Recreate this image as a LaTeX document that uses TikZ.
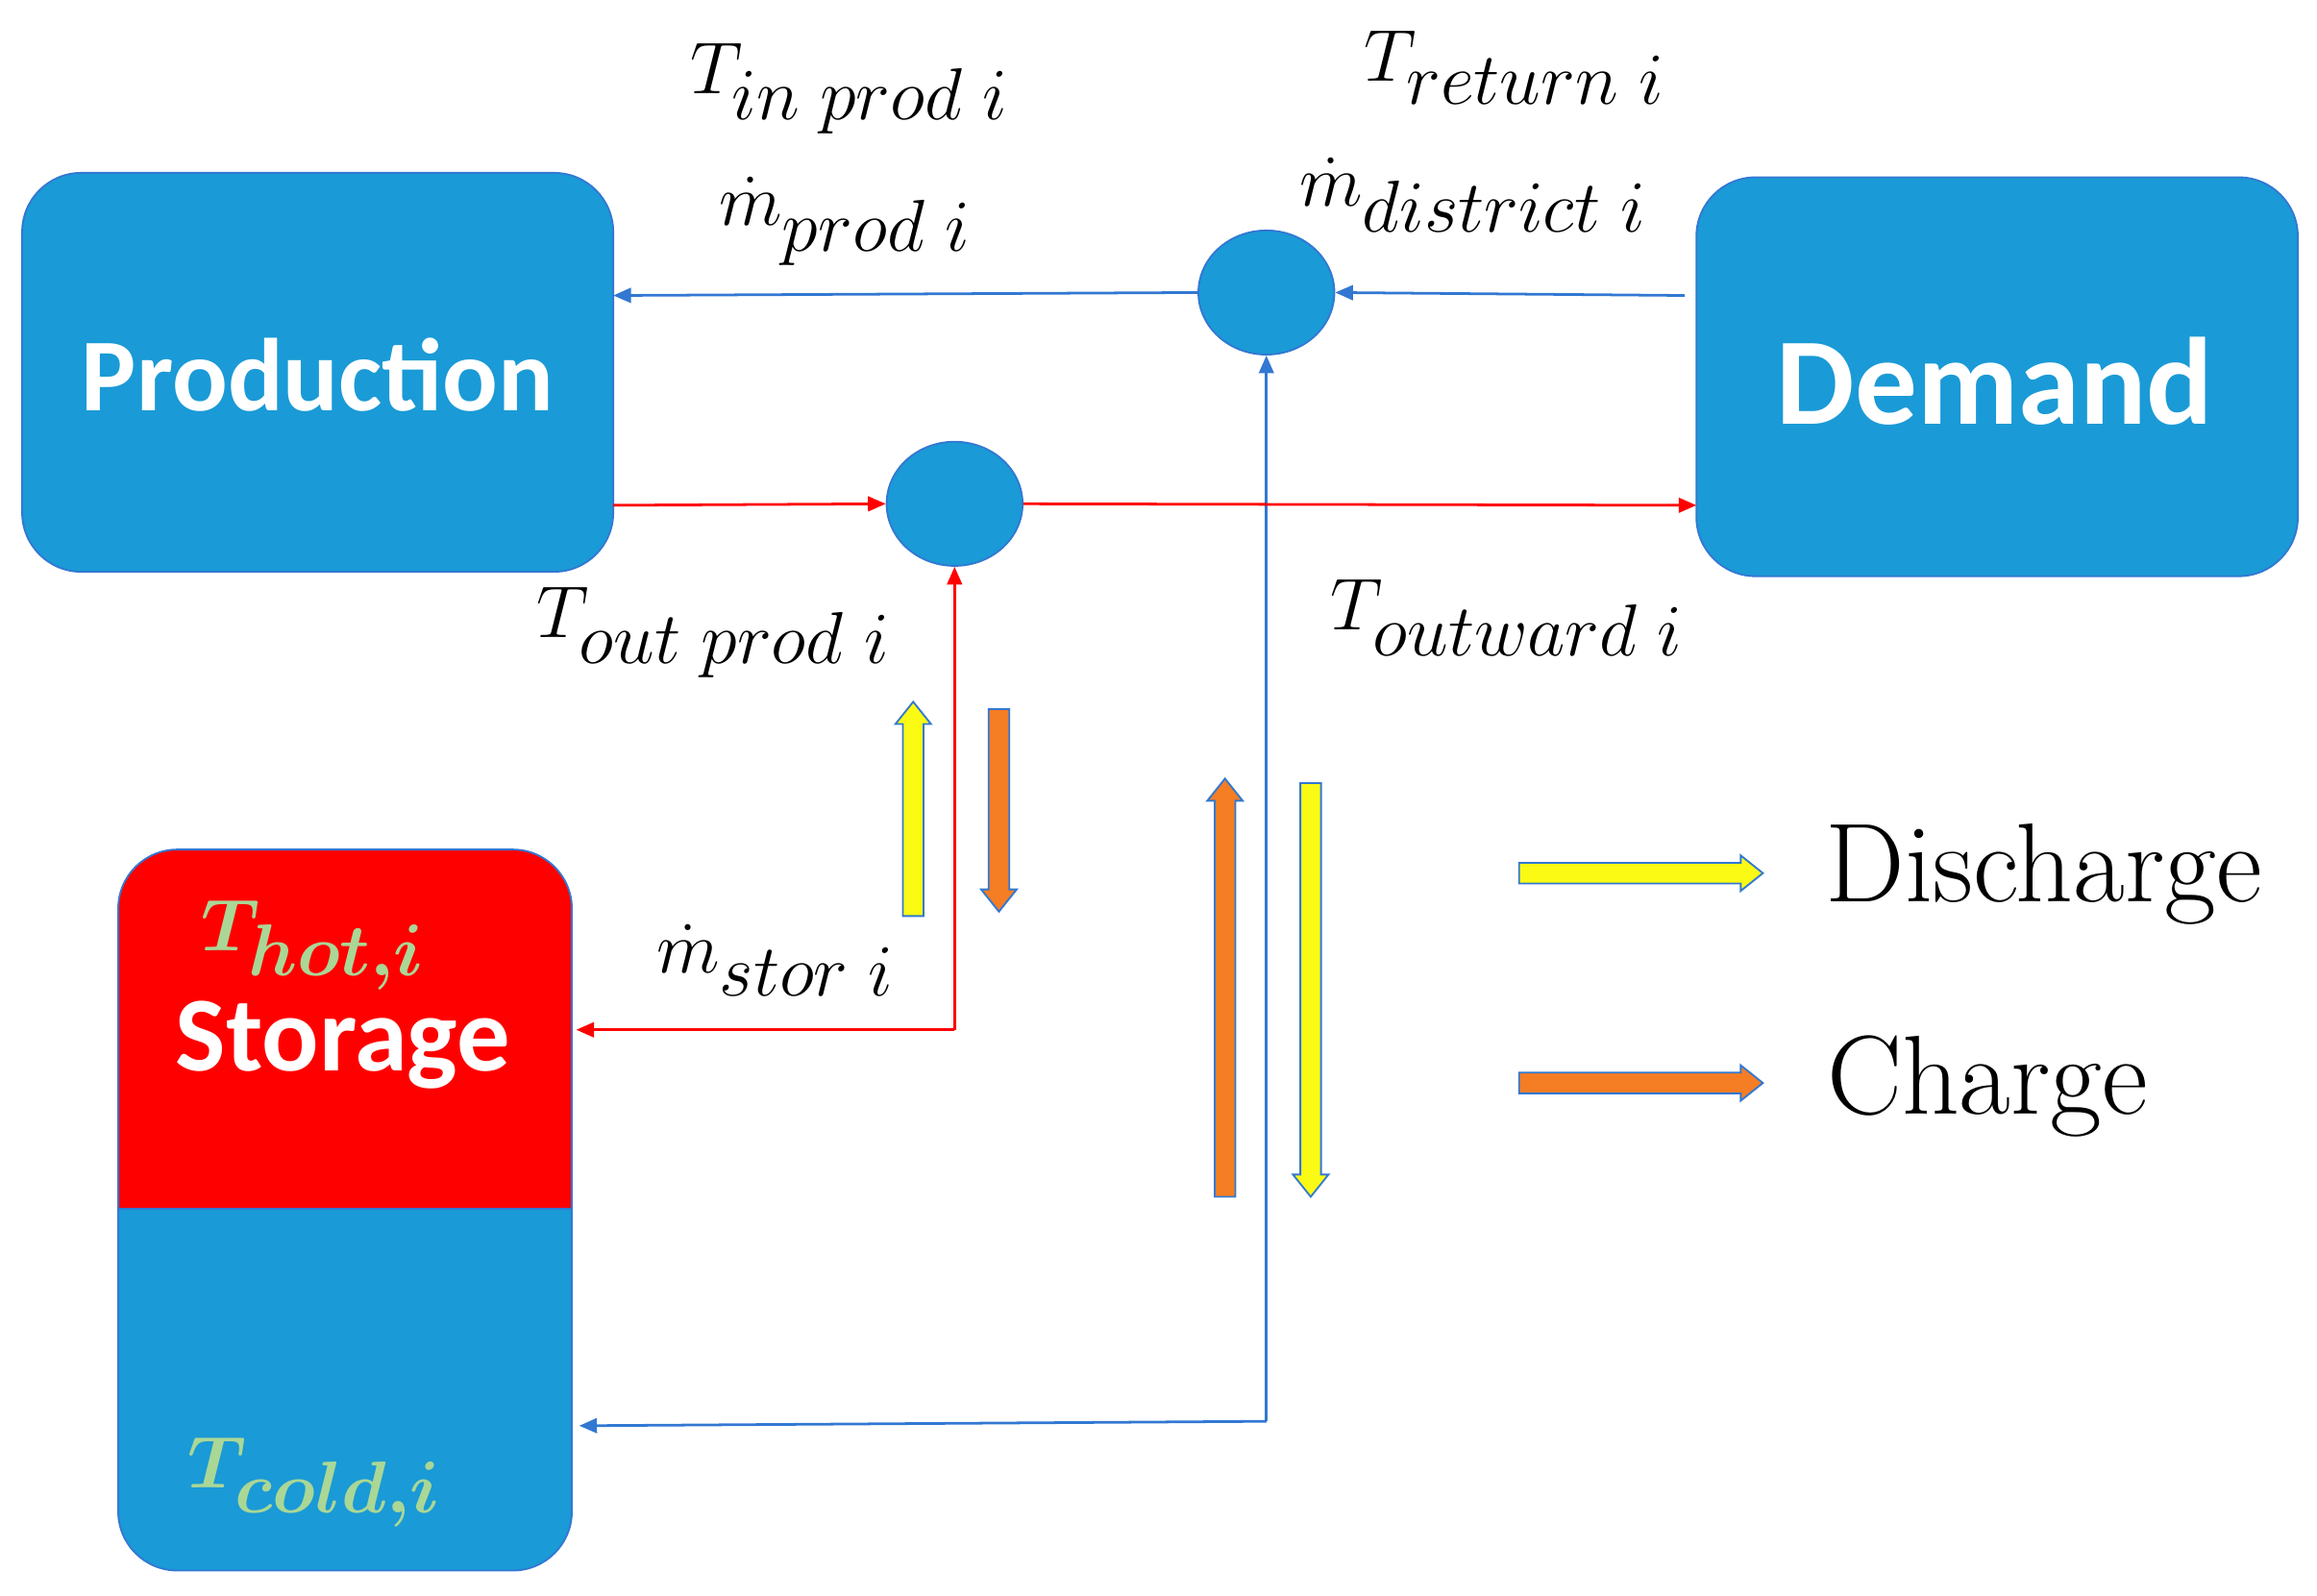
\documentclass[tikz,border=0pt]{standalone}
\usepackage{fontspec}
\usepackage{amsmath}
\newfontfamily\boxfont{Carlito}
\usetikzlibrary{shapes.geometric,arrows.meta}
\definecolor{bbox}{RGB}{26,154,214}
\definecolor{lblue}{RGB}{50,120,210}
\definecolor{tgreen}{RGB}{170,215,150}
\definecolor{aorange}{RGB}{245,125,35}
\definecolor{ayellow}{RGB}{250,250,20}
\newcommand\fatvert[5]{\filldraw[fill=#4,draw=lblue,line width=0.6pt]
  ({#1-7},#2) -- ({#1-7},{#3-#5*15}) -- ({#1-12},{#3-#5*15}) -- (#1,#3) -- ({#1+12},{#3-#5*15}) -- ({#1+7},{#3-#5*15}) -- ({#1+7},#2) -- cycle;}
\newcommand\fathor[4]{\filldraw[fill=#4,draw=lblue,line width=0.6pt]
  (#2,{#1-7}) -- ({#3-15},{#1-7}) -- ({#3-15},{#1-12}) -- (#3,#1) -- ({#3-15},{#1+12}) -- ({#3-15},{#1+7}) -- (#2,{#1+7}) -- cycle;}
\begin{document}
\begin{tikzpicture}[x=0.5pt,y=-0.5pt,
  blk/.style={fill=bbox,draw=lblue,line width=0.6pt,rounded corners=20pt,inner sep=0},
  bl/.style={text=white,font=\boxfont\bfseries\fontsize{35}{40}\selectfont},
  junc/.style={ellipse,fill=bbox,draw=lblue,line width=0.6pt,minimum width=46pt,minimum height=42pt,inner sep=0},
  bline/.style={draw=lblue,line width=0.9pt,-{Triangle[length=6pt,width=5pt]}},
  rline/.style={draw=red,line width=0.9pt,-{Triangle[length=6pt,width=5pt]}},
  lab/.style={font=\fontsize{38}{42}\selectfont,inner sep=0pt},
  leg/.style={font=\fontsize{38}{42}\selectfont}]
\useasboundingbox (0,0) rectangle (1568,1080);
\path[blk] (15,117) rectangle (415,387);
\node[bl] (prod) at (215,254) {Production};
\path[blk] (1148,120) rectangle (1555,390);
\node[bl,font=\boxfont\bfseries\fontsize{42}{46}\selectfont] (dem) at (1350,258) {Demand};
\coordinate (pl) at (415,200); \coordinate (pr) at (415,342);
\coordinate (dl) at (1140,200); \coordinate (dr) at (1148,342);
\begin{scope}
\clip[rounded corners=20pt] (80,575) rectangle (387,1063);
\fill[bbox] (80,575) rectangle (387,1063);
\fill[red] (80,575) rectangle (387,818);
\end{scope}
\draw[lblue,line width=0.6pt,rounded corners=20pt] (80,575) rectangle (387,1063);
\draw[lblue,line width=0.6pt] (80,818) -- (387,818);
\node[text=tgreen,font=\bfseries\fontsize{38}{42}\selectfont,inner sep=0pt] (thot) at (212,640) {$\boldsymbol{T_{hot,i}}$};
\node[bl,font=\boxfont\bfseries\fontsize{36}{40}\selectfont,inner sep=0pt] (stor) at (232,707) {Storage};
\node[text=tgreen,font=\bfseries\fontsize{38}{42}\selectfont] (tcold) at (213,1003) {$\boldsymbol{T_{cold,i}}$};
\coordinate (sh) at (390,697); \coordinate (sc) at (392,965);
\node[junc] (j1) at (857,198) {};
\node[junc] (j2) at (646,341) {};
\draw[bline] (dl) -- (j1.east);
\draw[bline] (j1.west) -- (pl);
\coordinate (cb) at (857,962);
\draw[bline] (cb) -- (j1.south);
\draw[bline] (cb) -- (sc);
\draw[rline] (pr) -- (j2.west);
\draw[rline] (j2.east) -- (dr);
\coordinate (rb) at (646,697);
\draw[rline] (rb) -- (j2.south);
\draw[rline] (rb) -- (sh);
\fatvert{618}{620}{475}{ayellow}{-1}
\fatvert{676}{480}{617}{aorange}{1}
\fatvert{829}{810}{527}{aorange}{-1}
\fatvert{887}{530}{810}{ayellow}{1}
\fathor{591}{1028}{1193}{ayellow}
\fathor{733}{1028}{1193}{aorange}
\node[leg] (ld) at (1383,592) {Discharge};
\node[leg] (lc) at (1345,735) {Charge};
\node[lab] (t1) at (575,60) {$T_{in\;prod\;i}$};
\node[lab] (t2) at (572,150) {$\dot m_{prod\;i}$};
\node[lab] (t3) at (1025,46) {$T_{return\;i}$};
\node[lab] (t4) at (997,132) {$\dot m_{district\;i}$};
\node[lab] (t5) at (483,428) {$T_{out\;prod\;i}$};
\node[lab] (t6) at (1020,418) {$T_{outward\;i}$};
\node[lab] (t7) at (525,650) {$\dot m_{stor\;i}$};
\end{tikzpicture}
\end{document}
